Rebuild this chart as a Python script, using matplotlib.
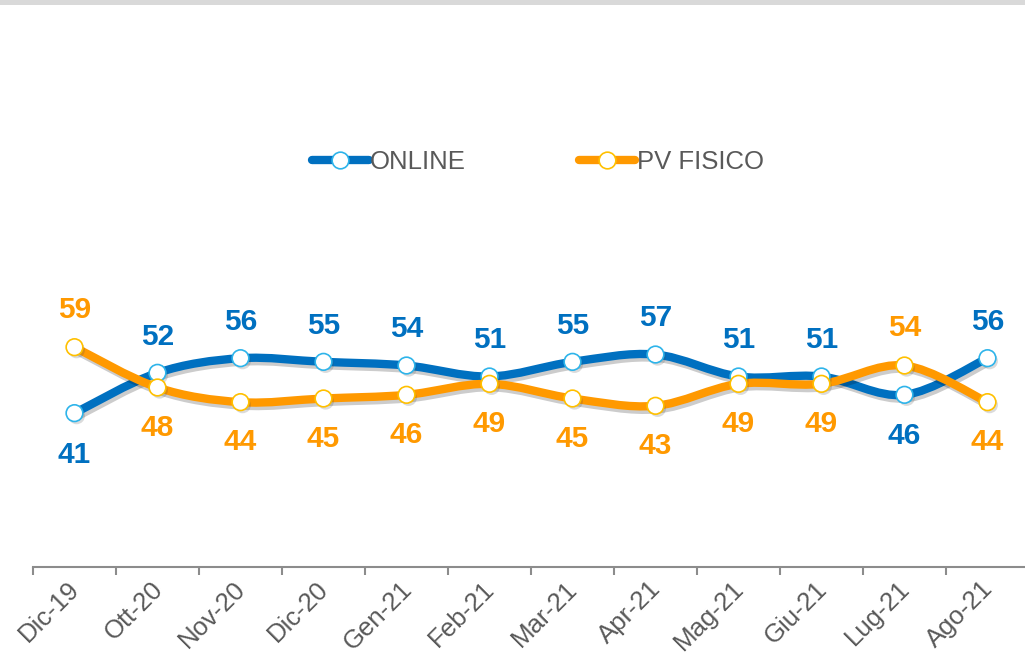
import numpy as np
import matplotlib
matplotlib.use("Agg")
from matplotlib import pyplot as plt
from matplotlib.path import Path
from matplotlib.patches import PathPatch, Rectangle
from matplotlib.lines import Line2D
import matplotlib.patheffects as pe
import matplotlib.transforms as mtransforms

plt.rcParams['font.family'] = ['Liberation Sans', 'DejaVu Sans']

# dati
mesi = ["Dic-19", "Ott-20", "Nov-20", "Dic-20", "Gen-21", "Feb-21",
        "Mar-21", "Apr-21", "Mag-21", "Giu-21", "Lug-21", "Ago-21"]
online = [41, 52, 56, 55, 54, 51, 55, 57, 51, 51, 46, 56]
pv_fisico = [59, 48, 44, 45, 46, 49, 45, 43, 49, 49, 54, 44]

BLU = "#0070C0"
ARANCIO = "#FF9900"
GRIGIO = "#595959"


def smooth_path(xs, ys):
    # curva tipo "linea smussata" di Excel (Catmull-Rom -> Bezier)
    pts = np.column_stack([xs, ys]).astype(float)
    n = len(pts)
    verts = [pts[0]]
    codes = [Path.MOVETO]
    for i in range(n - 1):
        p0 = pts[i - 1] if i > 0 else pts[i]
        p1 = pts[i]
        p2 = pts[i + 1]
        p3 = pts[i + 2] if i + 2 < n else pts[i + 1]
        c1 = p1 + (p2 - p0) / 6.0
        c2 = p2 - (p3 - p1) / 6.0
        verts += [c1, c2, p2]
        codes += [Path.CURVE4] * 3
    return Path(verts, codes)


fig = plt.figure(figsize=(10.25, 6.59), dpi=100)
fig.patches.append(Rectangle((0, 1 - 5 / 659), 1, 5 / 659, transform=fig.transFigure,
                             facecolor="#D9D9D9", edgecolor="none"))

ax = fig.add_axes([33 / 1025, (659 - 567) / 659, 996 / 1025, 370 / 659])
ax.set_xlim(-0.5, len(mesi) - 0.5)
ax.set_ylim(-1, 100)

x = np.arange(len(mesi))
serie = [(online, BLU, "#2EB4EA", "ONLINE"), (pv_fisico, ARANCIO, "#FFC000", "PV FISICO")]
for vals, col, bordo, nome in serie:
    patch = PathPatch(smooth_path(x, vals), facecolor="none", edgecolor=col, lw=6,
                      capstyle="round", joinstyle="round", zorder=2,
                      path_effects=[pe.SimpleLineShadow(offset=(1.5, -2.5), alpha=0.2, shadow_color="black"),
                                    pe.Normal()])
    ax.add_patch(patch)
for vals, col, bordo, nome in serie:
    ax.plot(x, vals, ls="none", marker="o", ms=12, mfc="white", mec=bordo, mew=1.2, zorder=4,
            path_effects=[pe.SimplePatchShadow(offset=(1.5, -2), alpha=0.2), pe.Normal()])

# etichette dati
for i in range(len(mesi)):
    su = online[i] >= pv_fisico[i]
    ax.annotate(str(online[i]), (x[i], online[i]), xytext=(0, 26 if su else -30),
                textcoords="offset points", ha="center", va="center",
                fontsize=21.5, fontweight="bold", color=BLU, zorder=5)
    ax.annotate(str(pv_fisico[i]), (x[i], pv_fisico[i]), xytext=(0, 27 if not su else -29),
                textcoords="offset points", ha="center", va="center",
                fontsize=21.5, fontweight="bold", color=ARANCIO, zorder=5)

# assi
for s in ["left", "right", "top"]:
    ax.spines[s].set_visible(False)
ax.spines["bottom"].set_color("#8C8C8C")
ax.spines["bottom"].set_linewidth(1.5)
ax.set_yticks([])
ax.set_xticks(x)
ax.set_xticklabels(mesi, rotation=45, ha="right", rotation_mode="anchor",
                   fontsize=18.5, color=GRIGIO)
ax.tick_params(axis="x", length=0, pad=7)
sposta = mtransforms.ScaledTranslation(-7 / 100, 0, fig.dpi_scale_trans)
for lab in ax.get_xticklabels():
    lab.set_transform(lab.get_transform() + sposta)
ax.set_xticks(np.arange(len(mesi)) - 0.5, minor=True)
ax.tick_params(axis="x", which="minor", length=6, width=1.5, color="#8C8C8C")

handles = [Line2D([], [], color=col, lw=6, solid_capstyle="round", marker="o", ms=12,
                  mfc="white", mec=bordo, mew=1.2, label=nome)
           for vals, col, bordo, nome in serie]
leg = fig.legend(handles=handles, loc="center", bbox_to_anchor=(538 / 1025, 1 - 162 / 659),
                 ncol=2, frameon=False, fontsize=18.5, handlelength=2.2, handletextpad=0.05,
                 columnspacing=4.4)
for t in leg.get_texts():
    t.set_color(GRIGIO)

fig.savefig("out.png", dpi=100)
